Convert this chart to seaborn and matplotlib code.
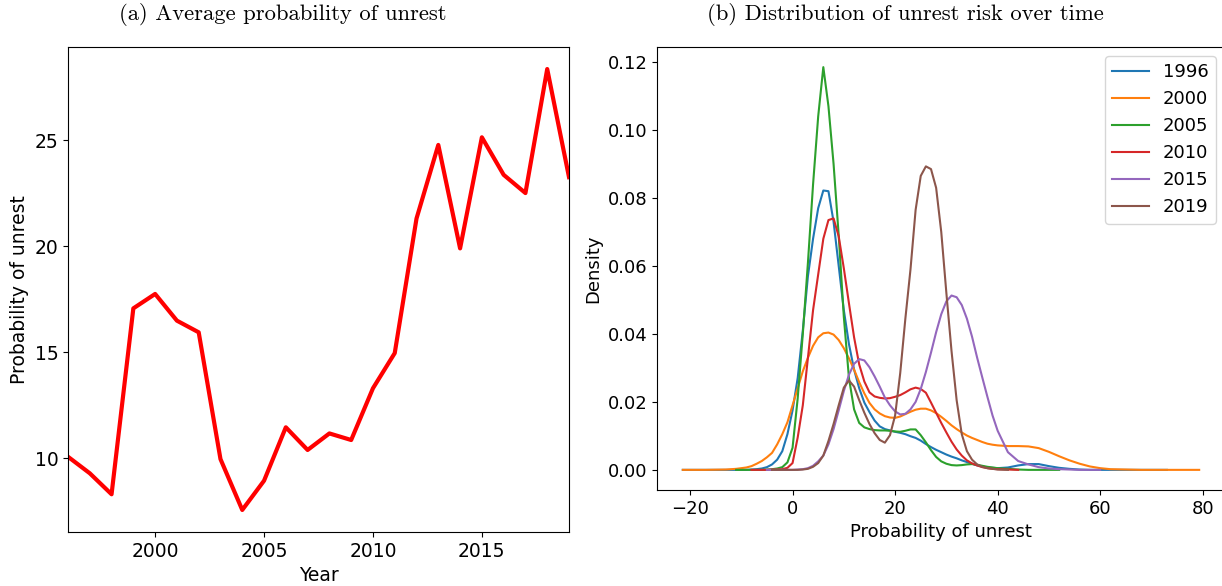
import matplotlib
matplotlib.use("Agg")
import matplotlib.pyplot as plt
import seaborn as sns
import numpy as np

# (a) yearly average probability of unrest
years = [1996, 1997, 1998, 1999, 2000, 2001, 2002, 2003, 2004, 2005, 2006, 2007,
         2008, 2009, 2010, 2011, 2012, 2013, 2014, 2015, 2016, 2017, 2018, 2019]
avg_unrest = [10.06, 9.28, 8.29, 17.06, 17.74, 16.48, 15.93, 9.95, 7.55, 8.93, 11.45, 10.38,
              11.16, 10.85, 13.29, 14.95, 21.3, 24.77, 19.89, 25.13, 23.36, 22.5, 28.35, 23.25]

# (b) density curves, on a shared x grid (None = outside curve range)
N = None
grid_x = [-21.4, -17, -13, -11, -9, -8, -7, -6, -5, -4, -3, -2, -1,
          0, 1, 2, 3, 4, 5, 6, 7, 8, 9, 10, 11, 12, 13, 14, 15, 16, 17, 18, 19, 20,
          21, 22, 23, 24, 25, 26, 27, 28, 29, 30, 31, 32, 33, 34, 35, 36, 37, 38, 39, 40,
          42, 44, 46, 48, 50, 52, 54, 56, 58, 60, 62, 65, 68, 71, 73, 76, 79.3]

dens_1996 = [0, 0, 0, 0, 0, 0.0001, 0.0002, 0.0004, 0.0008, 0.0016, 0.003, 0.0055, 0.0105,
             0.0175, 0.027, 0.041, 0.057, 0.068, 0.077, 0.0822, 0.082, 0.073, 0.06, 0.047, 0.037,
             0.0295, 0.024, 0.0198, 0.017, 0.0145, 0.0128, 0.012, 0.0116, 0.0112,
             0.0109, 0.0105, 0.0099, 0.0094, 0.0086, 0.0076, 0.0067, 0.0059, 0.0052, 0.0045,
             0.0039, 0.0034, 0.0028, 0.0023, 0.0018, 0.0013, 0.001, 0.0007, 0.0006, 0.0005,
             0.0007, 0.0013, 0.0017, 0.0017, 0.0011, 0.0006, 0.0003, 0.0001, 0, 0, 0, 0, 0, 0, 0, N, N]
dens_2000 = [0, 0, 0.0001, 0.0003, 0.0007, 0.0011, 0.0018, 0.0026, 0.0037, 0.005, 0.0075, 0.0105, 0.014,
             0.019, 0.024, 0.029, 0.033, 0.0365, 0.039, 0.0402, 0.0404, 0.0398, 0.0382, 0.0358, 0.0328,
             0.0295, 0.0258, 0.0225, 0.0197, 0.0178, 0.0166, 0.0158, 0.0154, 0.0153,
             0.0157, 0.0164, 0.0171, 0.0177, 0.018, 0.018, 0.0175, 0.0167, 0.0156, 0.0144,
             0.0131, 0.012, 0.011, 0.0101, 0.0094, 0.0088, 0.0082, 0.0077, 0.0074, 0.0072,
             0.007, 0.007, 0.0069, 0.0064, 0.0053, 0.004, 0.0028, 0.0018, 0.001, 0.0005, 0.0002,
             0.0001, 0, 0, 0, 0, 0]
dens_2005 = [N, N, N, 0, 0, 0, 0, 0, 0.0001, 0.0002, 0.0004, 0.0008, 0.0022,
             0.0065, 0.021, 0.04, 0.061, 0.084, 0.104, 0.1185, 0.107, 0.09, 0.069, 0.045, 0.027,
             0.0178, 0.0138, 0.0125, 0.012, 0.0117, 0.0116, 0.0116, 0.0115, 0.0113,
             0.0112, 0.0115, 0.0119, 0.0119, 0.0102, 0.0081, 0.0058, 0.0038, 0.0025, 0.0018,
             0.0014, 0.0013, 0.0014, 0.0016, 0.0017, 0.0015, 0.0012, 0.0009, 0.0007, 0.0005,
             0.0003, 0.0001, 0, 0, 0, 0, N, N, N, N, N, N, N, N, N, N, N]
dens_2010 = [N, N, N, N, N, 0, 0, 0, 0, 0.0001, 0.0001, 0.0002, 0.0006,
             0.002, 0.0095, 0.019, 0.033, 0.047, 0.0575, 0.068, 0.0735, 0.074, 0.0687, 0.0593, 0.049,
             0.039, 0.031, 0.026, 0.0228, 0.0216, 0.0212, 0.021, 0.0211, 0.0215,
             0.022, 0.0228, 0.0237, 0.0242, 0.0238, 0.0227, 0.0198, 0.0168, 0.0138, 0.011,
             0.0083, 0.006, 0.0042, 0.0028, 0.0019, 0.0013, 0.0008, 0.0005, 0.0003, 0.0002,
             0.0001, 0, N, N, N, N, N, N, N, N, N, N, N, N, N, N, N]
dens_2015 = [N, N, N, N, N, N, N, N, 0, 0, 0, 0, 0,
             0, 0.0001, 0.0002, 0.0005, 0.0012, 0.0025, 0.0042, 0.0075, 0.012, 0.0175, 0.0232, 0.028,
             0.0312, 0.0326, 0.0322, 0.0302, 0.0275, 0.0245, 0.0213, 0.019, 0.0172,
             0.0163, 0.0165, 0.0178, 0.02, 0.0238, 0.0288, 0.0345, 0.0405, 0.0458, 0.0496,
             0.0513, 0.0508, 0.0485, 0.0445, 0.0392, 0.033, 0.0272, 0.0215, 0.016, 0.0115,
             0.0052, 0.0026, 0.0016, 0.0008, 0.0004, 0.0002, 0.0001, 0, 0, 0, N, N, N, N, N, N, N]
dens_2019 = [N, N, N, N, N, N, N, N, N, 0, 0, 0, 0,
             0, 0, 0.0001, 0.0003, 0.0009, 0.002, 0.0042, 0.0085, 0.0135, 0.019, 0.0242, 0.0263,
             0.0245, 0.0205, 0.0168, 0.0135, 0.0108, 0.0088, 0.008, 0.0102, 0.016,
             0.0285, 0.0445, 0.059, 0.0765, 0.0865, 0.0893, 0.0885, 0.083, 0.07, 0.052,
             0.035, 0.0205, 0.0105, 0.0055, 0.003, 0.0016, 0.0009, 0.0005, 0.0003, 0.0001,
             0, N, N, N, N, N, N, N, N, N, N, N, N, N, N, N, N]

dist_years = ["1996", "2000", "2005", "2010", "2015", "2019"]
dist_values = [dens_1996, dens_2000, dens_2005, dens_2010, dens_2015, dens_2019]

W, H = 1222, 586
fig = plt.figure(figsize=(W / 100, H / 100), dpi=100)

ax1 = fig.add_axes([68 / W, (H - 532) / H, (569 - 68) / W, (532 - 47) / H])
ax2 = fig.add_axes([657 / W, (H - 490) / H, (1225 - 657) / W, (490 - 47) / H])

######################### (a) line plot #########################
sns.lineplot(x=years, y=avg_unrest, ax=ax1, color="red", linewidth=3)
ax1.set_xlim(1996, 2019)
ax1.set_xticks([2000, 2005, 2010, 2015])
ax1.set_yticks([10, 15, 20, 25])
ax1.set_xlabel("Year", fontsize=13.5)
ax1.set_ylabel("Probability of unrest", fontsize=13.5)
ax1.tick_params(labelsize=13.5)

######################### (b) density curves #########################
colors = sns.color_palette("tab10", len(dist_years))
for yr, vals, col in zip(dist_years, dist_values, colors):
    xs = [x for x, v in zip(grid_x, vals) if v is not None]
    ys = [v for v in vals if v is not None]
    sns.lineplot(x=xs, y=ys, ax=ax2, color=col, linewidth=1.5, label=yr)

ax2.set_xticks([-20, 0, 20, 40, 60, 80])
ax2.set_yticks([0.00, 0.02, 0.04, 0.06, 0.08, 0.10, 0.12])
ax2.set_yticklabels(["0.00", "0.02", "0.04", "0.06", "0.08", "0.10", "0.12"])
ax2.set_xlabel("Probability of unrest", fontsize=13)
ax2.set_ylabel("Density", fontsize=13)
ax2.tick_params(labelsize=13)
ax2.legend(loc="upper right", fontsize=13)

# subfigure captions
fig.text(283 / W, 1 - 15 / H, "(a) Average probability of unrest",
         ha="center", va="center", family="cmr10", fontsize=16.3)
fig.text(905 / W, 1 - 15 / H, "(b) Distribution of unrest risk over time",
         ha="center", va="center", family="cmr10", fontsize=16.3)

fig.savefig("out.png", dpi=100)
